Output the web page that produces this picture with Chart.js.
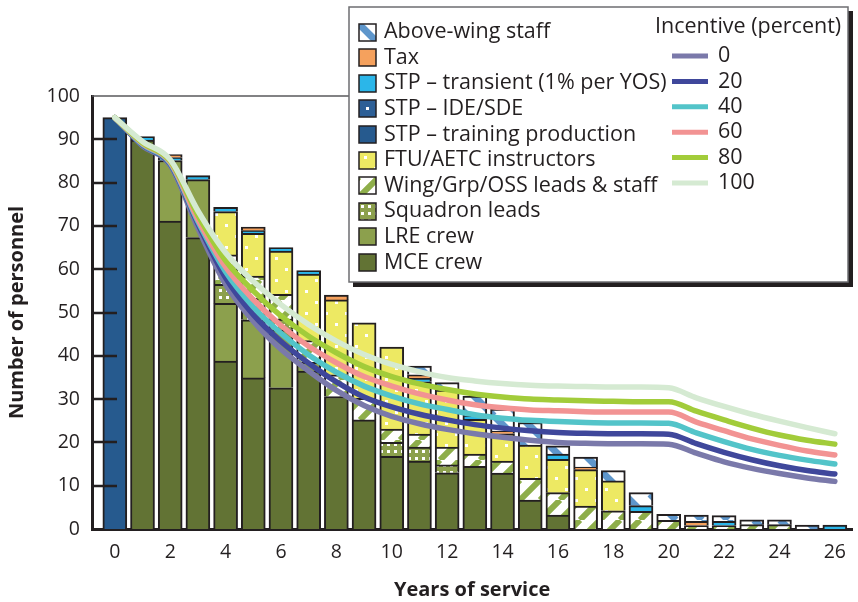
<!DOCTYPE html>
<html>
<head>
<meta charset="utf-8">
<script src="https://cdn.jsdelivr.net/npm/chart.js@4.4.1/dist/chart.umd.min.js"></script>
<style>
  html, body { margin: 0; padding: 0; background: #fff; }
  #wrap { width: 858px; height: 602px; position: relative; }
</style>
</head>
<body>
<div id="wrap"><canvas id="chart"></canvas></div>
<script>
// years of service (one bar per year)
const years = [0,1,2,3,4,5,6,7,8,9,10,11,12,13,14,15,16,17,18,19,20,21,22,23,24,25,26];
const xTicks = [0,2,4,6,8,10,12,14,16,18,20,22,24,26];
const yTicks = [0,10,20,30,40,50,60,70,80,90,100];

// stacked bar segments, bottom to top
const mceCrew     = [null,89.8,71.1,67.3,38.8,34.9,32.6,36.5,30.6,25.2,16.8,15.7,13.0,14.5,12.9,6.7,3.2,null,null,null,null,null,null,null,null,null,null];
const lreCrew     = [null,null,14.0,13.4,13.3,13.4,13.4,2.0,null,null,null,null,null,null,null,null,null,null,null,null,null,null,null,null,null,null,null];
const sqnLeads    = [null,null,null,null,4.4,5.0,2.5,null,null,null,3.2,3.2,1.8,null,null,null,null,null,null,null,null,null,null,null,null,null,null];
const wingStaff   = [null,null,null,null,6.8,5.1,5.7,5.0,5.0,5.0,3.1,3.0,4.1,2.8,2.8,5.0,5.2,5.3,4.2,4.1,2.0,0.8,0.8,1.0,1.0,null,null];
const ftuAetc     = [null,null,null,null,10.0,9.9,10.0,15.4,17.3,17.4,18.9,12.1,13.2,8.0,6.3,7.7,7.7,8.4,6.9,null,null,null,null,null,null,null,null];
const stpTraining = [95,null,null,null,null,null,null,null,null,null,null,null,null,null,null,null,null,null,null,null,null,null,null,null,null,null,null];
const stpIdeSde   = [null,null,null,null,null,null,null,null,null,null,null,null,null,null,null,null,null,null,null,null,null,null,null,null,null,null,null];
const stpTransient= [null,0.8,0.7,0.9,1.0,0.6,0.8,0.8,null,null,null,0.8,null,1.0,null,null,1.2,null,null,1.3,null,null,1.0,null,null,null,0.9];
const tax         = [null,null,0.7,null,null,0.8,null,null,1.1,null,null,0.8,null,null,0.6,null,null,0.6,null,null,null,1.0,null,null,null,null,null];
const aboveWing   = [null,null,null,null,null,null,null,null,null,null,null,2.0,1.7,4.4,5.1,5.2,1.9,2.3,2.4,3.0,1.4,1.4,1.3,1.1,1.1,0.9,null];

// retention curves by incentive level
const incentiveLabels = ['0','20','40','60','80','100'];
const inc0   = [95,88.5,84.0,69.5,56.5,48.0,41.5,36.5,32.0,28.5,26.0,24.3,23.0,22.0,21.2,20.5,20.0,19.8,19.7,19.7,19.6,17.5,15.5,14.0,12.8,11.8,11.0];
const inc20  = [95,88.7,84.3,70.5,58.0,49.5,43.3,38.3,34.0,30.5,28.2,26.5,25.2,24.1,23.3,22.7,22.3,22.1,22.0,22.0,21.9,19.7,17.7,16.0,14.6,13.5,12.7];
const inc40  = [95,88.8,84.5,71.0,59.4,51.3,45.2,40.2,36.2,33.0,30.7,28.9,27.6,26.4,25.6,25.1,24.8,24.6,24.5,24.5,24.4,22.2,20.2,18.4,17.0,15.9,15.0];
const inc60  = [95,89.0,84.7,71.5,60.5,53.0,47.0,42.2,38.4,35.2,33.0,31.2,29.8,28.7,28.0,27.5,27.3,27.1,27.0,27.0,27.0,24.7,22.7,20.8,19.3,18.0,17.1];
const inc80  = [95,89.2,85.0,72.5,62.0,55.0,49.2,44.5,40.7,37.5,35.2,33.5,32.2,31.2,30.5,30.0,29.8,29.6,29.5,29.4,29.4,27.2,25.2,23.3,21.7,20.5,19.6];
const inc100 = [95,89.5,85.3,73.5,63.8,57.2,51.8,47.2,43.4,40.3,38.0,36.3,35.0,34.2,33.6,33.2,33.0,32.9,32.8,32.8,32.6,30.3,28.3,26.5,24.9,23.4,22.0];

const ink = '#231f20';

function stripes(bg, fg, size, lw, dir) {
  const c = document.createElement('canvas');
  c.width = c.height = size;
  const g = c.getContext('2d');
  g.fillStyle = bg; g.fillRect(0, 0, size, size);
  g.strokeStyle = fg; g.lineWidth = lw;
  g.beginPath();
  for (const o of [-size, 0, size]) {
    if (dir > 0) { g.moveTo(o, size); g.lineTo(o + size, 0); }
    else { g.moveTo(o, 0); g.lineTo(o + size, size); }
  }
  g.stroke();
  return g.createPattern(c, 'repeat');
}

function dots(bg, w, h, pts, d) {
  const c = document.createElement('canvas');
  c.width = w; c.height = h;
  const g = c.getContext('2d');
  g.fillStyle = bg; g.fillRect(0, 0, w, h);
  g.fillStyle = '#fff';
  pts.forEach(p => g.fillRect(p[0], p[1], d, d));
  return g.createPattern(c, 'repeat');
}

const fills = {
  mce: '#627334',
  lre: '#8ca04d',
  sqn: dots('#8ca04d', 7, 7, [[2, 2]], 3),
  wing: stripes('#ffffff', '#8eae4a', 20, 6, 1),
  ftu: dots('#ede963', 20, 22, [[5, 4], [15, 15]], 3),
  train: '#265a8e',
  ide: dots('#2d5f96', 17, 17, [[7, 7]], 3),
  transient: '#2bb6e9',
  tax: '#f5a15d',
  above: stripes('#ffffff', '#5e96cb', 26, 7, -1)
};

const barSets = [
  ['MCE crew', mceCrew, fills.mce],
  ['LRE crew', lreCrew, fills.lre],
  ['Squadron leads', sqnLeads, fills.sqn],
  ['Wing/Grp/OSS leads & staff', wingStaff, fills.wing],
  ['FTU/AETC instructors', ftuAetc, fills.ftu],
  ['STP \u2013 training production', stpTraining, fills.train],
  ['STP \u2013 IDE/SDE', stpIdeSde, fills.ide],
  ['STP \u2013 transient (1% per YOS)', stpTransient, fills.transient],
  ['Tax', tax, fills.tax],
  ['Above-wing staff', aboveWing, fills.above]
].map(([label, data, fill]) => ({
  type: 'bar',
  label: label,
  data: data,
  backgroundColor: fill,
  borderColor: ink,
  borderWidth: {top: 2, left: 2, right: 2, bottom: 0},
  borderSkipped: false,
  barThickness: 24,
  stack: 'bars',
  order: 10
}));

const lineColors = ['#7a79aa', '#3f479b', '#53c4c9', '#f29393', '#a2cc3a', '#d5ead2'];
const lineSets = [inc0, inc20, inc40, inc60, inc80, inc100].map((d, i) => ({
  type: 'line',
  label: incentiveLabels[i],
  data: d,
  borderColor: lineColors[i],
  backgroundColor: lineColors[i],
  borderWidth: 5.5,
  pointRadius: 0,
  cubicInterpolationMode: 'monotone',
  borderCapStyle: 'round',
  stack: 'line' + i,
  order: 5 - i
}));

// inward y ticks and the top frame line
const axisExtras = {
  id: 'axisExtras',
  afterDatasetsDraw(chart) {
    const {ctx, chartArea: a, scales: {y}} = chart;
    ctx.save();
    ctx.strokeStyle = ink;
    ctx.lineWidth = 2.5;
    ctx.beginPath();
    yTicks.forEach(v => {
      if (v > y.min && v < y.max) {
        const py = Math.round(y.getPixelForValue(v));
        ctx.moveTo(a.left, py);
        ctx.lineTo(a.left + 25, py);
      }
    });
    ctx.stroke();
    ctx.strokeStyle = '#58595b';
    ctx.lineWidth = 1.5;
    ctx.beginPath();
    ctx.moveTo(a.left, a.top);
    ctx.lineTo(a.right, a.top);
    ctx.stroke();
    ctx.restore();
  }
};

// two-column legend box in the top right corner
const legendBox = {
  id: 'legendBox',
  afterDraw(chart) {
    const ctx = chart.ctx;
    const bx = 349, by = 7, bw = 499, bh = 275;
    ctx.save();
    ctx.fillStyle = ink;
    ctx.fillRect(bx + 4, by + 4, bw + 1, bh + 1);
    ctx.fillStyle = '#fff';
    ctx.fillRect(bx, by, bw, bh);
    ctx.strokeStyle = '#6d6e71';
    ctx.lineWidth = 1.5;
    ctx.strokeRect(bx, by, bw, bh);

    ctx.font = "21.5px 'Open Sans'";
    ctx.textBaseline = 'middle';
    ctx.textAlign = 'left';

    const bars = chart.data.datasets.filter(d => d.type === 'bar').slice().reverse();
    bars.forEach((d, i) => {
      const cy = 32 + i * 25.6;
      ctx.save();
      ctx.translate(359, Math.round(cy - 8.5));
      ctx.fillStyle = d.backgroundColor;
      ctx.fillRect(0, 0, 17, 17);
      ctx.strokeStyle = ink;
      ctx.lineWidth = 1.5;
      ctx.strokeRect(0, 0, 17, 17);
      ctx.restore();
      ctx.fillStyle = ink;
      ctx.fillText(d.label, 384, cy);
    });

    ctx.fillStyle = ink;
    ctx.fillText('Incentive (percent)', 655, 27);
    const lines = chart.data.datasets.filter(d => d.type === 'line');
    lines.forEach((d, i) => {
      const cy = 56 + i * 25.4;
      ctx.strokeStyle = d.borderColor;
      ctx.lineWidth = 5;
      ctx.beginPath();
      ctx.moveTo(672, cy);
      ctx.lineTo(708, cy);
      ctx.stroke();
      ctx.fillStyle = ink;
      ctx.fillText(d.label, 718, cy);
    });
    ctx.restore();
  }
};

Chart.defaults.font.family = "'Open Sans', 'Noto Sans', sans-serif";
Chart.defaults.color = ink;

new Chart(document.getElementById('chart'), {
  data: {
    labels: years,
    datasets: lineSets.concat(barSets)
  },
  options: {
    responsive: true,
    maintainAspectRatio: false,
    animation: false,
    layout: {padding: {top: 96, left: 0, right: 0, bottom: 0}},
    plugins: {
      legend: {display: false},
      tooltip: {enabled: false}
    },
    scales: {
      x: {
        type: 'linear',
        offset: false,
        min: -0.824,
        max: 26.63,
        grid: {display: false, drawTicks: false},
        border: {display: true, color: ink, width: 3},
        afterBuildTicks: s => { s.ticks = xTicks.map(v => ({value: v})); },
        afterFit: s => { s.height = 73; },
        ticks: {font: {size: 19.5}, padding: 12, maxRotation: 0, autoSkip: false},
        title: {display: true, text: 'Years of service', font: {size: 20, weight: 'bold'}, padding: {top: 0, bottom: 0}}
      },
      y: {
        stacked: true,
        min: 0,
        max: 100,
        grid: {display: false, drawTicks: false},
        border: {display: true, color: ink, width: 3},
        afterBuildTicks: s => { s.ticks = yTicks.map(v => ({value: v})); },
        afterFit: s => { s.width = 92; },
        ticks: {font: {size: 19.5}, padding: 12},
        title: {display: true, text: 'Number of personnel', font: {size: 20, weight: 'bold'}, padding: {top: 5, bottom: 0}}
      }
    }
  },
  plugins: [axisExtras, legendBox]
});
</script>
</body>
</html>
